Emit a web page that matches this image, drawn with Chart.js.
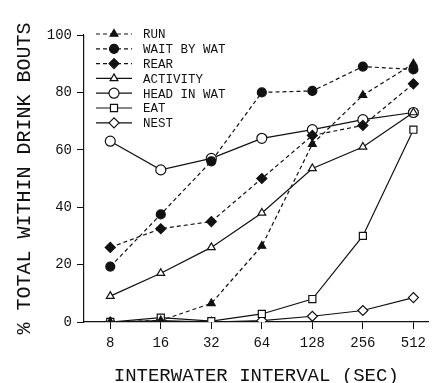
<!DOCTYPE html>
<html>
<head>
<meta charset="utf-8">
<script src="https://cdn.jsdelivr.net/npm/chart.js@4"></script>
<style>
    html, body { margin: 0; padding: 0; background: #fff; }
    #wrap { width: 432px; height: 383px; }
</style>
</head>
<body>
<div id="wrap"><canvas id="drinkChart"></canvas></div>
<script>
// Interwater interval categories (sec)
const intervals = ['8', '16', '32', '64', '128', '256', '512'];
const yTicks = [0, 20, 40, 60, 80, 100];

// % total within drink bouts, one array per behaviour
const run = [0, 0.5, 6.5, 26.5, 62, 79, 90];
const waitByWat = [19.3, 37.5, 56, 80, 80.5, 89, 88];
const rear = [26, 32.5, 35, 50, 65, 68.5, 83];
const activity = [9, 17, 26, 38, 53.5, 61, 73];
const headInWat = [63, 53, 57, 64, 67, 70.5, 73];
const eat = [0, 1.5, 0.3, 2.8, 8, 30, 67];
const nest = [0, 0.5, 0, 0.5, 2, 4, 8.5];

const FONT = "'Liberation Mono', 'DejaVu Sans Mono', monospace";

function series(label, values, style, filled, dashed, radius) {
    return {
        label: label,
        data: values.map((v, i) => ({ x: i, y: v })),
        borderColor: '#111',
        backgroundColor: filled ? '#111' : '#fff',
        borderWidth: 1.2,
        borderDash: dashed ? [4, 3] : [],
        pointStyle: style,
        pointRadius: radius,
        pointBorderWidth: 1.2,
        pointBackgroundColor: filled ? '#111' : '#fff',
        pointBorderColor: '#111',
        tension: 0
    };
}

// Legend drawn inside the plot area, top left
const insideLegend = {
    id: 'insideLegend',
    afterDatasetsDraw(chart) {
        const ctx = chart.ctx;
        ctx.save();
        chart.data.datasets.forEach((ds, i) => {
            const y = 34 + i * 14.8;
            ctx.strokeStyle = ds.borderColor;
            ctx.lineWidth = ds.borderWidth;
            ctx.setLineDash(ds.borderDash);
            ctx.beginPath();
            ctx.moveTo(96, y);
            ctx.lineTo(132, y);
            ctx.stroke();
            ctx.setLineDash([]);
            ctx.fillStyle = ds.pointBackgroundColor;
            Chart.helpers.drawPoint(ctx, {
                pointStyle: ds.pointStyle,
                radius: ds.pointRadius,
                borderWidth: ds.pointBorderWidth,
                rotation: 0
            }, 114, y);
            ctx.fillStyle = '#111';
            ctx.font = '12.5px ' + FONT;
            ctx.textBaseline = 'middle';
            ctx.fillText(ds.label, 143, y + 1);
        });
        ctx.restore();
    }
};

new Chart(document.getElementById('drinkChart'), {
    type: 'line',
    data: {
        datasets: [
            series('RUN', run, 'triangle', true, true, 4.5),
            series('WAIT BY WAT', waitByWat, 'circle', true, true, 4.5),
            series('REAR', rear, 'rectRot', true, true, 5),
            series('ACTIVITY', activity, 'triangle', false, false, 4.5),
            series('HEAD IN WAT', headInWat, 'circle', false, false, 5),
            series('EAT', eat, 'rect', false, false, 5),
            series('NEST', nest, 'rectRot', false, false, 5)
        ]
    },
    options: {
        responsive: true,
        maintainAspectRatio: false,
        animation: false,
        layout: { autoPadding: false, padding: { top: 35, right: 0, left: 0, bottom: 0 } },
        plugins: {
            legend: { display: false },
            tooltip: { enabled: false }
        },
        scales: {
            x: {
                type: 'linear',
                min: -0.52,
                max: 6.3,
                afterBuildTicks: scale => {
                    scale.ticks = intervals.map((_, i) => ({ value: i }));
                },
                afterFit: scale => { scale.height = 61; },
                ticks: {
                    color: '#111',
                    font: { family: FONT, size: 14 },
                    padding: 6,
                    maxRotation: 0,
                    callback: v => intervals[v]
                },
                grid: { drawOnChartArea: false, drawTicks: true, tickLength: 7, color: '#111' },
                border: { color: '#111', width: 1.2 },
                title: {
                    display: true,
                    text: 'INTERWATER INTERVAL (SEC)',
                    color: '#111',
                    font: { family: FONT, size: 19 },
                    padding: { top: 4, bottom: -4 }
                }
            },
            y: {
                min: 0,
                max: 100,
                afterBuildTicks: scale => {
                    scale.ticks = yTicks.map(v => ({ value: v }));
                },
                afterFit: scale => { scale.width = 84; },
                ticks: {
                    color: '#111',
                    font: { family: FONT, size: 14 },
                    padding: 5
                },
                grid: { drawOnChartArea: false, drawTicks: true, tickLength: 7, color: '#111' },
                border: { color: '#111', width: 1.2 },
                title: {
                    display: true,
                    text: '% TOTAL WITHIN DRINK BOUTS',
                    color: '#111',
                    font: { family: FONT, size: 20 },
                    padding: { top: 13, bottom: 0 }
                }
            }
        }
    },
    plugins: [insideLegend]
});
</script>
</body>
</html>
